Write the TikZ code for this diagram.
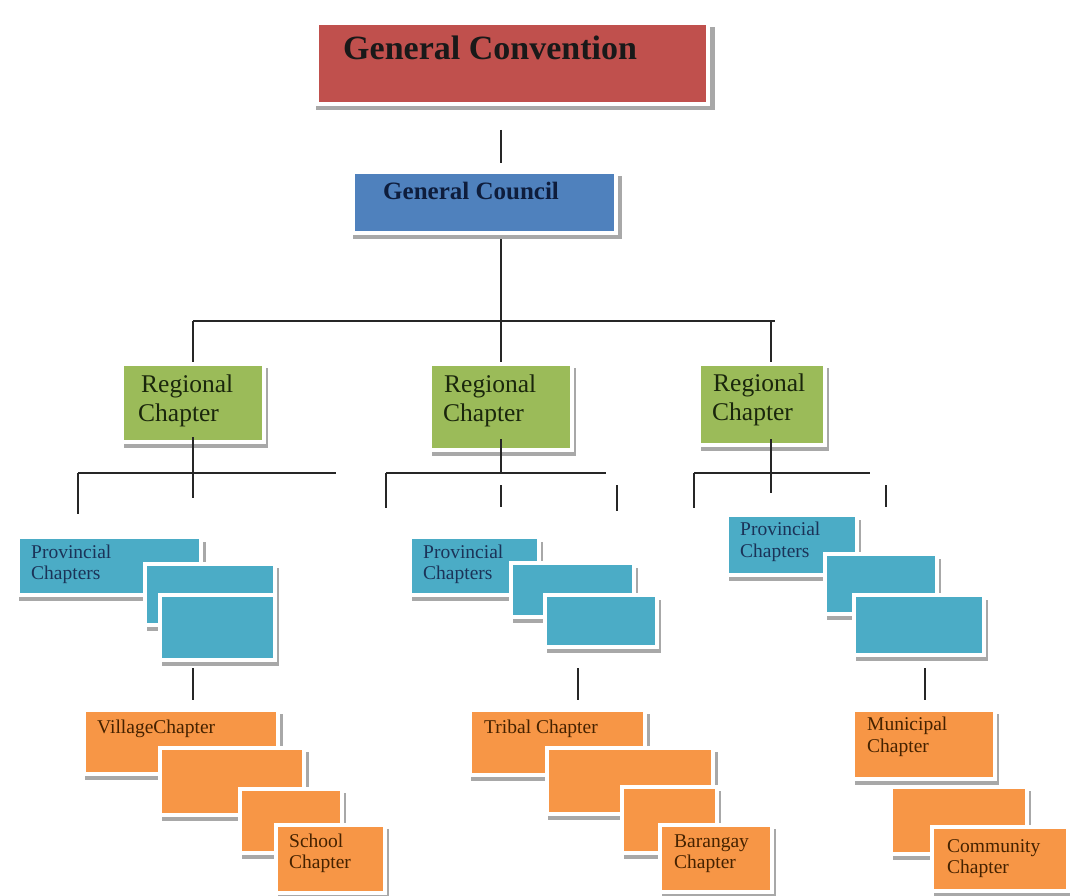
\documentclass[tikz,border=0pt]{standalone}
\usepackage{fontspec}
\setmainfont{Liberation Serif}
\usetikzlibrary{shadows}
\definecolor{cred}{HTML}{C0504D}
\definecolor{cblue}{HTML}{4F81BD}
\definecolor{cgreen}{HTML}{9BBB59}
\definecolor{caqua}{HTML}{4BACC6}
\definecolor{corange}{HTML}{F79646}
\definecolor{tnavy}{HTML}{1B3358}
\definecolor{tbrown}{HTML}{452200}
\definecolor{tgreen}{HTML}{1A260C}
\definecolor{tcouncil}{HTML}{0E1D3C}
\definecolor{shade}{HTML}{A8A8A8}
\tikzset{
  boxbase/.style={draw=white, line width=4pt, inner sep=0pt,
    drop shadow={shadow xshift=3pt, shadow yshift=-5pt, shadow scale=1.02, fill=shade, opacity=1}},
  redbox/.style={boxbase, fill=cred},
  bluebox/.style={boxbase, fill=cblue},
  greenbox/.style={boxbase, fill=cgreen},
  aquabox/.style={boxbase, fill=caqua},
  orangebox/.style={boxbase, fill=corange},
  conn/.style={draw=black!85, line width=1.8pt},
  bigtxt/.style={anchor=base west, inner sep=0pt, font=\fontsize{34}{38}\selectfont\bfseries, text=black!90},
  counciltxt/.style={anchor=base west, inner sep=0pt, font=\fontsize{25}{29}\selectfont\bfseries, text=tcouncil},
  regtxt/.style={anchor=base west, inner sep=0pt, font=\fontsize{25.5}{29}\selectfont, text=tgreen},
  provtxt/.style={anchor=base west, inner sep=0pt, font=\fontsize{19.5}{21}\selectfont, text=tnavy},
  orgtxt/.style={anchor=base west, inner sep=0pt, font=\fontsize{19.5}{21}\selectfont, text=tbrown},
}
\newcommand\mybox[6]{\node[#6, anchor=north west, minimum width={(#4-#2)*1pt}, minimum height={(#5-#3)*1pt}] (#1) at (#2,#3) {};}
\begin{document}
\begin{tikzpicture}[x=1pt,y=-1pt]
\useasboundingbox (0,0) rectangle (1070,896);
% top
\mybox{conv}{315}{21}{706}{102}{redbox}
\node[bigtxt] (tconv) at (343,60) {General Convention};
\mybox{council}{351}{170}{614}{231}{bluebox}
\node[counciltxt] (tcouncil) at (383,200) {General Council};
% regional
\mybox{rc1}{120}{362}{262}{440}{greenbox}
\mybox{rc2}{428}{362}{570}{448}{greenbox}
\mybox{rc3}{697}{362}{823}{443}{greenbox}
\node[regtxt] (r1a) at (141,392) {Regional};
\node[regtxt] (r1b) at (138,421) {Chapter};
\node[regtxt] (r2a) at (444,392) {Regional};
\node[regtxt] (r2b) at (443,421) {Chapter};
\node[regtxt] (r3a) at (713,391) {Regional};
\node[regtxt] (r3b) at (712,420) {Chapter};
% provincial group 1
\mybox{pA1}{16}{535}{199}{593}{aquabox}
\node[provtxt] (p1a) at (31,558) {Provincial};
\node[provtxt] (p1b) at (31,579) {Chapters};
\mybox{pB1}{143}{562}{273}{623}{aquabox}
\mybox{pC1}{158}{593}{273}{658}{aquabox}
% provincial group 2
\mybox{pA2}{408}{535}{537}{593}{aquabox}
\node[provtxt] (p2a) at (423,558) {Provincial};
\node[provtxt] (p2b) at (423,579) {Chapters};
\mybox{pB2}{509}{561}{632}{615}{aquabox}
\mybox{pC2}{543}{593}{655}{645}{aquabox}
% provincial group 3
\mybox{pA3}{725}{513}{855}{573}{aquabox}
\node[provtxt] (p3a) at (740,535) {Provincial};
\node[provtxt] (p3b) at (740,557) {Chapters};
\mybox{pB3}{823}{552}{935}{612}{aquabox}
\mybox{pC3}{852}{593}{982}{653}{aquabox}
% orange group 1
\mybox{oA1}{82}{708}{276}{772}{orangebox}
\node[orgtxt] (o1a) at (97,733) {VillageChapter};
\mybox{oB1}{158}{746}{302}{813}{orangebox}
\mybox{oC1}{238}{787}{340}{851}{orangebox}
\mybox{oD1}{274}{823}{383}{891}{orangebox}
\node[orgtxt] (o1d) at (289,847) {School};
\node[orgtxt] (o1e) at (289,868) {Chapter};
% orange group 2
\mybox{oA2}{468}{708}{643}{773}{orangebox}
\node[orgtxt] (o2a) at (484,733) {Tribal Chapter};
\mybox{oB2}{545}{746}{711}{812}{orangebox}
\mybox{oC2}{620}{785}{715}{851}{orangebox}
\mybox{oD2}{658}{823}{770}{890}{orangebox}
\node[orgtxt] (o2d) at (674,847) {Barangay};
\node[orgtxt] (o2e) at (674,868) {Chapter};
% orange group 3
\mybox{oA3}{851}{708}{993}{777}{orangebox}
\node[orgtxt] (o3a) at (867,730) {Municipal};
\node[orgtxt] (o3b) at (867,752) {Chapter};
\mybox{oB3}{889}{785}{1025}{852}{orangebox}
\mybox{oC3}{930}{825}{1066}{889}{orangebox}
\node[orgtxt] (o3c) at (947,852) {Community};
\node[orgtxt] (o3d) at (947,873) {Chapter};
% connector coordinates
\coordinate (j0) at (501,321);
\coordinate (h1) at (193,321);
\coordinate (h3) at (775,321);
\coordinate (h3v) at (771,321);
\coordinate (k1) at (193,473);
\coordinate (k1e) at (193,498);
\coordinate (k1l) at (78,473);
\coordinate (k1le) at (78,514);
\coordinate (k1r) at (336,473);
\coordinate (k2) at (501,473);
\coordinate (k2l) at (386,473);
\coordinate (k2le) at (386,508);
\coordinate (k2r) at (606,473);
\coordinate (k2ms) at (501,485);
\coordinate (k2me) at (501,507);
\coordinate (k2ts) at (617,485);
\coordinate (k2te) at (617,511);
\coordinate (k3) at (771,473);
\coordinate (k3e) at (771,493);
\coordinate (k3l) at (694,473);
\coordinate (k3le) at (694,508);
\coordinate (k3r) at (870,473);
\coordinate (k3ts) at (886,485);
\coordinate (k3te) at (886,507);
\coordinate (d1) at (193,668);
\coordinate (d2) at (578,668);
\coordinate (d3) at (925,668);
% connectors
\draw[conn, shorten <=24pt, shorten >=7pt] (conv.south -| j0) -- (council.north -| j0);
\draw[conn, shorten <=4pt] (council.south -| j0) -- (j0);
\draw[conn] (h1) -- (h3);
\draw[conn] (h1) -- (rc1.north -| h1);
\draw[conn] (j0) -- (rc2.north -| j0);
\draw[conn] (h3v) -- (rc3.north -| h3v);
% level 2 group 1
\draw[conn, shorten <=-7pt] (rc1.south -| k1) -- (k1e);
\draw[conn] (k1l) -- (k1r);
\draw[conn] (k1l) -- (k1le);
% level 2 group 2
\draw[conn, shorten <=-13pt] (rc2.south -| k2) -- (k2);
\draw[conn] (k2l) -- (k2r);
\draw[conn] (k2l) -- (k2le);
\draw[conn] (k2ms) -- (k2me);
\draw[conn] (k2ts) -- (k2te);
% level 2 group 3
\draw[conn, shorten <=-8pt] (rc3.south -| k3) -- (k3e);
\draw[conn] (k3l) -- (k3r);
\draw[conn] (k3l) -- (k3le);
\draw[conn] (k3ts) -- (k3te);
% level 3
\draw[conn, shorten >=8pt] (d1) -- (oA1.north -| d1);
\draw[conn, shorten >=8pt] (d2) -- (oA2.north -| d2);
\draw[conn, shorten >=8pt] (d3) -- (oA3.north -| d3);
\end{tikzpicture}
\end{document}
